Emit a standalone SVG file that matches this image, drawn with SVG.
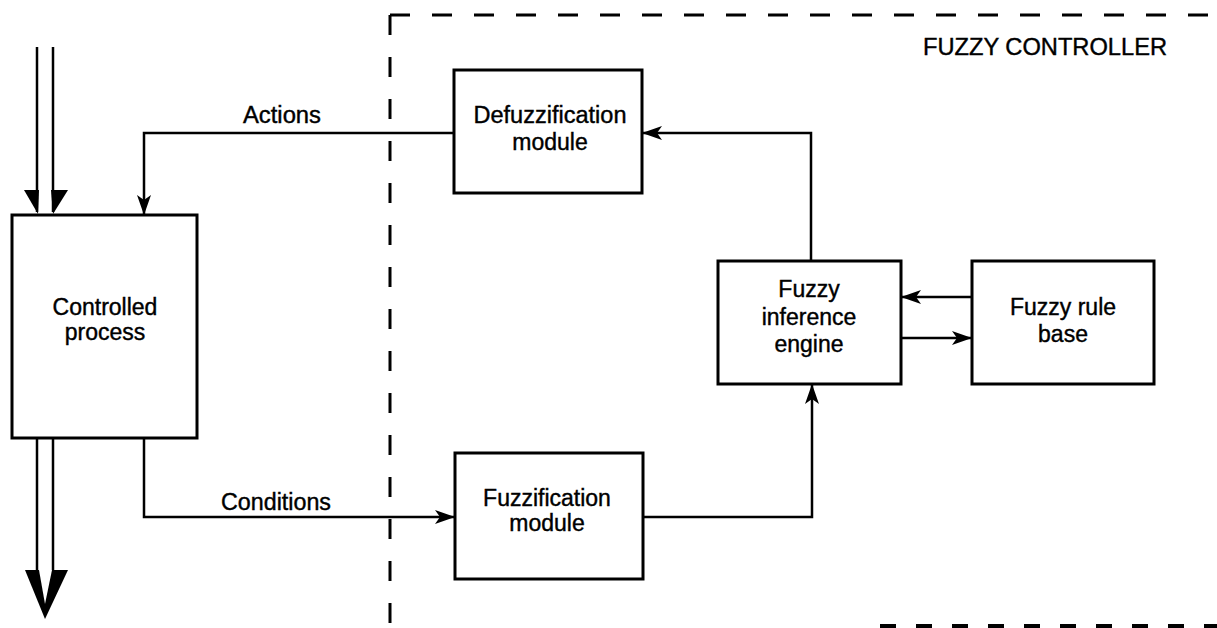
<svg xmlns="http://www.w3.org/2000/svg" width="1217" height="628" viewBox="0 0 1217 628">
<style>
.box{fill:#fff;stroke:#000;stroke-width:3}
.ln{fill:none;stroke:#000;stroke-width:2.5}
.dash{fill:none;stroke:#000;stroke-width:3;stroke-dasharray:20 22}
text{font-family:"Liberation Sans",Arial,sans-serif;font-size:23px;fill:#000;stroke:#000;stroke-width:0.4;text-anchor:middle}
</style>
<defs>
<marker id="ah" viewBox="0 0 20 14" refX="19" refY="7" markerWidth="20" markerHeight="14" markerUnits="userSpaceOnUse" orient="auto">
<path d="M0,0 L20,7 L0,14 L5,7 z" fill="#000"/>
</marker>
</defs>
<rect width="1217" height="628" fill="#fff"/>
<g id="boundary">
<path class="dash" d="M390,15 L1217,15"/>
<path class="dash" d="M390,15 L390,628"/>
<path d="M880,626 L1217,626" fill="none" stroke="#000" stroke-width="4" stroke-dasharray="16 20"/>
<text x="1045" y="55" textLength="244" lengthAdjust="spacingAndGlyphs">FUZZY CONTROLLER</text>
</g>
<g id="connectors">
<path class="ln" d="M37,47 L37,212"/>
<path class="ln" d="M53,47 L53,212"/>
<polygon points="24,190 39,190 38,214" fill="#000"/>
<polygon points="51,190 68,190 53,214" fill="#000"/>
<path class="ln" d="M37,438 L37,570"/>
<path class="ln" d="M53,438 L53,570"/>
<polygon points="25,570 68,570 45,619" fill="#000"/>
<polygon points="39,570 52,570 45,604" fill="#fff"/>
<path class="ln" d="M454,133 L144,133 L144,214" marker-end="url(#ah)"/>
<path class="ln" d="M144,438 L144,517 L454,517" marker-end="url(#ah)"/>
<path class="ln" d="M643,517 L812,517 L812,385" marker-end="url(#ah)"/>
<path class="ln" d="M811,261 L811,133 L643,133" marker-end="url(#ah)"/>
<path class="ln" d="M972,297 L902,297" marker-end="url(#ah)"/>
<path class="ln" d="M901,338 L971,338" marker-end="url(#ah)"/>
<text x="282" y="123" textLength="78" lengthAdjust="spacingAndGlyphs">Actions</text>
<text x="276" y="510" textLength="110" lengthAdjust="spacingAndGlyphs">Conditions</text>
</g>
<g id="process">
<rect class="box" x="12" y="215" width="185" height="223"/>
<text x="105" y="315">Controlled</text>
<text x="105" y="340">process</text>
</g>
<g id="defuzz">
<rect class="box" x="454" y="70" width="188" height="123"/>
<text x="550" y="123" textLength="153" lengthAdjust="spacingAndGlyphs">Defuzzification</text>
<text x="550" y="150">module</text>
</g>
<g id="fuzz">
<rect class="box" x="455" y="453" width="188" height="126"/>
<text x="547" y="506">Fuzzification</text>
<text x="547" y="531">module</text>
</g>
<g id="inference">
<rect class="box" x="718" y="261" width="183" height="123"/>
<text x="809" y="297">Fuzzy</text>
<text x="809" y="325">inference</text>
<text x="809" y="352">engine</text>
</g>
<g id="rulebase">
<rect class="box" x="972" y="261" width="182" height="123"/>
<text x="1063" y="315">Fuzzy rule</text>
<text x="1063" y="342">base</text>
</g>
</svg>
